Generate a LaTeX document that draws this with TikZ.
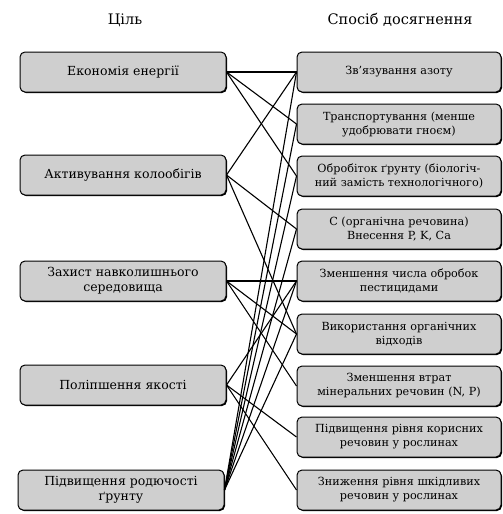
\documentclass[tikz,border=0pt]{standalone}
\usepackage{fontspec}
\setmainfont{DejaVu Serif}
\usetikzlibrary{shadows}
\begin{document}
\begin{tikzpicture}[x=1pt,y=-1pt,
 box/.style={draw=black, line width=1pt, rounded corners=5pt, fill=gray!38,
   minimum height=40pt, align=center, inner sep=1pt,
   drop shadow={shadow xshift=1pt, shadow yshift=-1pt, fill=black, opacity=1}},
 lbox/.style={box, minimum width=206pt, font=\fontsize{12.5}{15}\selectfont},
 rbox/.style={box, minimum width=204pt, font=\fontsize{11.2}{14}\selectfont},
 head/.style={font=\fontsize{14.5}{17}\selectfont},
 link/.style={line width=1.1pt}]
\useasboundingbox (0,0) rectangle (503,514);
\node[head] (h1) at (125,20) {Ціль};
\node[head] (h2) at (400,20) {Спосіб досягнення};
% left
\node[lbox] (l1) at (123,72) {Економія енергії};
\node[lbox] (l2) at (123,175) {Активування колообігів};
\node[lbox] (l3) at (123,281) {Захист навколишнього\\середовища};
\node[lbox] (l4) at (123,385) {Поліпшення якості};
\node[lbox] (l5) at (121,490) {Підвищення родючості\\ґрунту};
% right
\node[rbox] (r1) at (399,72) {Зв’язування азоту};
\node[rbox] (r2) at (399,124) {Транспортування (менше\\удобрювати гноєм)};
\node[rbox] (r3) at (399,176) {Обробіток ґрунту (біологіч-\\ний замість технологічного)};
\node[rbox] (r4) at (399,229) {С (органічна речовина)\\Внесення P, K, Ca};
\node[rbox] (r5) at (399,281) {Зменшення числа обробок\\пестицидами};
\node[rbox] (r6) at (399,334) {Використання органічних\\відходів};
\node[rbox] (r7) at (399,386) {Зменшення втрат\\мінеральних речовин (N, P)};
\node[rbox] (r8) at (399,437) {Підвищення рівня корисних\\речовин у рослинах};
\node[rbox] (r9) at (399,490) {Зниження рівня шкідливих\\речовин у рослинах};
% links
\foreach \a/\b in {l1/r1,l1/r2,l1/r3,l2/r1,l2/r4,l2/r6,l3/r5,l3/r6,l3/r7,l4/r5,l4/r8,l4/r9,l5/r1,l5/r2,l5/r3,l5/r4,l5/r5,l5/r6}
  \draw[link] (\a.east) -- (\b.west);
\end{tikzpicture}
\end{document}
